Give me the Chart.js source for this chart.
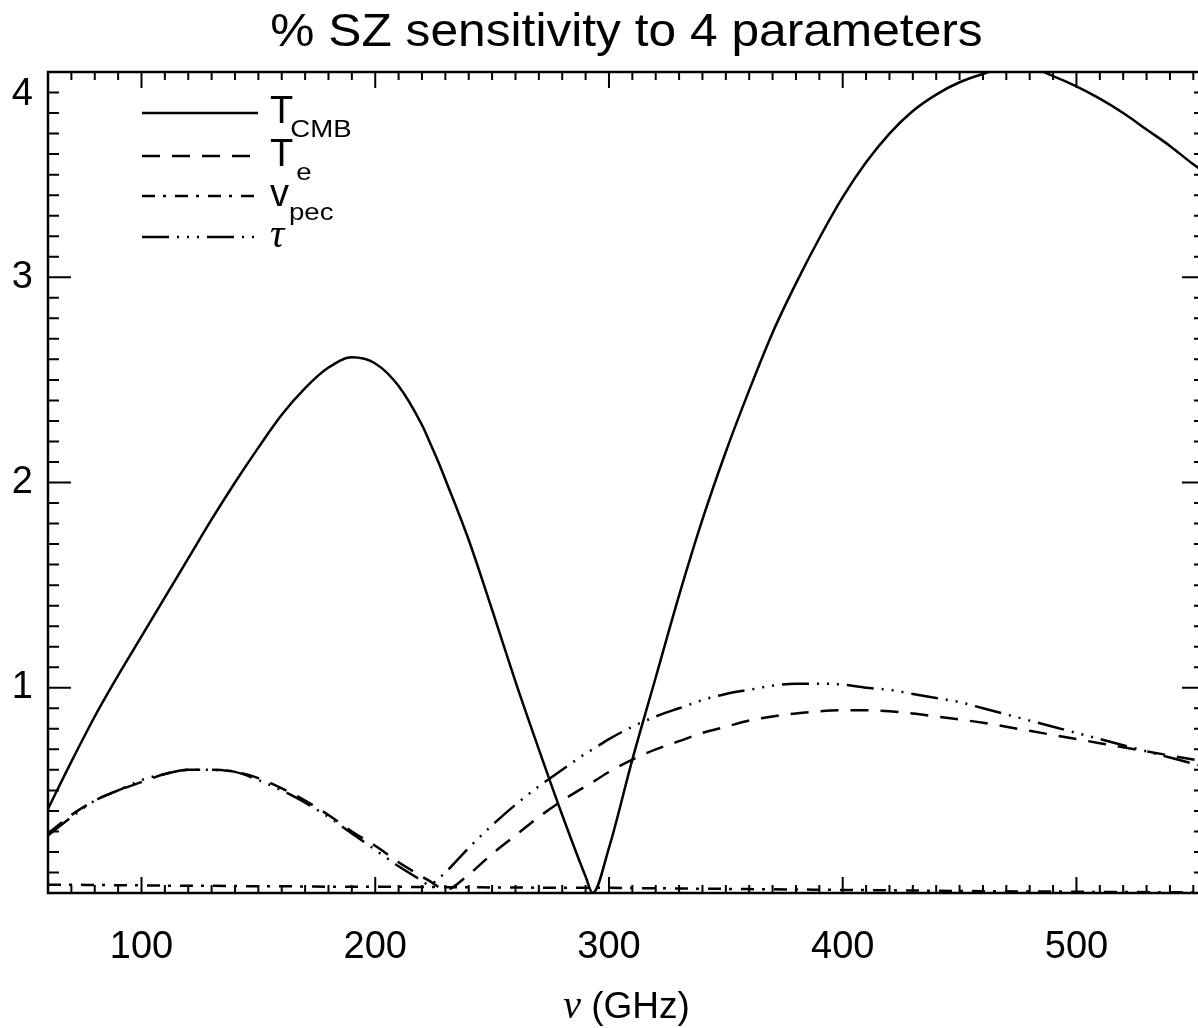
<!DOCTYPE html>
<html>
<head>
<meta charset="utf-8">
<title>% SZ sensitivity to 4 parameters</title>
<script src="https://cdn.jsdelivr.net/npm/chart.js@4.4.1/dist/chart.umd.min.js"></script>
<style>
  html, body { margin: 0; padding: 0; background: #fff; overflow: hidden; }
  #wrap { width: 1212px; height: 1028px; }
</style>
</head>
<body>
<div id="wrap"><canvas id="szChart" width="1212" height="1028"></canvas></div>
<script>
// frequency grid (GHz), extra points near the sign changes
const freqGHz = [60, 70, 80, 90, 100, 110, 120, 130, 140, 150, 160, 170, 180, 190, 200, 210, 220, 223, 227,
  230, 240, 250, 260, 270, 280, 290, 293, 300, 310, 320, 330, 340, 350, 360, 370, 380, 390, 400, 410, 420,
  430, 440, 450, 460, 470, 480, 490, 500, 510, 520, 530, 540, 550, 555];

// % sensitivity
const tCmb = [0.41, 0.64, 0.86, 1.06, 1.25, 1.44, 1.63, 1.82, 2.00, 2.17, 2.33, 2.46, 2.56, 2.61, 2.58, 2.47, 2.28, 2.205, 2.10,
  2.015, 1.72, 1.38, 1.03, 0.70, 0.38, 0.08, 0.00, 0.22, 0.65, 1.05, 1.45, 1.82, 2.15, 2.45, 2.73, 2.97, 3.19, 3.39, 3.56, 3.70,
  3.81, 3.89, 3.95, 3.99, 4.02, 4.02, 3.98, 3.93, 3.87, 3.80, 3.72, 3.64, 3.55, 3.51];
const tE = [0.29, 0.38, 0.45, 0.50, 0.54, 0.58, 0.60, 0.60, 0.59, 0.56, 0.51, 0.45, 0.38, 0.30, 0.23, 0.15, 0.08, 0.06, 0.03,
  0.015, 0.09, 0.19, 0.28, 0.37, 0.45, 0.52, 0.54, 0.59, 0.65, 0.70, 0.74, 0.78, 0.81, 0.84, 0.86, 0.875, 0.885, 0.89, 0.89, 0.885,
  0.875, 0.86, 0.845, 0.83, 0.81, 0.79, 0.77, 0.75, 0.73, 0.71, 0.69, 0.67, 0.65, 0.64];
const vPec = [0.040, 0.040, 0.039, 0.038, 0.037, 0.036, 0.035, 0.035, 0.034, 0.033, 0.033, 0.032, 0.031, 0.031, 0.030, 0.030, 0.029, 0.029, 0.029,
  0.028, 0.028, 0.027, 0.027, 0.026, 0.026, 0.025, 0.025, 0.025, 0.024, 0.023, 0.022, 0.021, 0.020, 0.019, 0.018, 0.017, 0.016, 0.015, 0.014, 0.013,
  0.012, 0.011, 0.010, 0.009, 0.008, 0.007, 0.007, 0.006, 0.005, 0.005, 0.004, 0.004, 0.003, 0.003];
const tau = [0.28, 0.37, 0.45, 0.50, 0.55, 0.58, 0.60, 0.60, 0.59, 0.55, 0.50, 0.44, 0.37, 0.29, 0.21, 0.13, 0.06, 0.04, 0.07,
  0.10, 0.22, 0.33, 0.43, 0.52, 0.60, 0.68, 0.70, 0.75, 0.81, 0.86, 0.90, 0.94, 0.97, 0.99, 1.01, 1.02, 1.02, 1.015, 1.00, 0.99,
  0.97, 0.95, 0.93, 0.90, 0.87, 0.84, 0.81, 0.78, 0.75, 0.72, 0.69, 0.66, 0.63, 0.615];

const xTickValues = [100, 200, 300, 400, 500];
const yTickValues = [1, 2, 3, 4];
const legendMain = ['T', 'T', 'v', '\u03C4'];
const legendSub = ['CMB', 'e', 'pec', ''];

const SANS = '"Liberation Sans", Arial, Helvetica, sans-serif';
const SERIF = '"Liberation Serif", "DejaVu Serif", serif';

function toPoints(values) {
    return freqGHz.map((f, i) => ({ x: f, y: values[i] }));
}

function series(values, dash) {
    return {
        data: toPoints(values),
        borderColor: '#000',
        borderWidth: 2.5,
        borderDash: dash,
        pointRadius: 0,
        fill: false,
        cubicInterpolationMode: 'monotone'
    };
}

// draw text stretched horizontally (the original font is a bit wide)
function wideText(ctx, text, x, y, sx) {
    ctx.save();
    ctx.translate(x, y);
    ctx.scale(sx, 1);
    ctx.fillText(text, 0, 0);
    ctx.restore();
    return ctx.measureText(text).width * sx;
}

// IDL style frame with inward major/minor ticks on all four sides
const framePlugin = {
    id: 'frame',
    afterDatasetsDraw(chart) {
        const { ctx, chartArea: a, scales: { x, y } } = chart;
        ctx.save();
        ctx.strokeStyle = '#000';
        ctx.lineWidth = 2;
        ctx.beginPath();
        for (let v = 60; v <= 555; v += 10) {
            const px = x.getPixelForValue(v);
            const len = v % 100 === 0 ? 16 : 8;
            ctx.moveTo(px, a.bottom); ctx.lineTo(px, a.bottom - len);
            ctx.moveTo(px, a.top); ctx.lineTo(px, a.top + len);
        }
        for (let i = 1; i < 40; i++) {
            const py = y.getPixelForValue(i / 10);
            const len = i % 10 === 0 ? 23 : 11;
            ctx.moveTo(a.left, py); ctx.lineTo(a.left + len, py);
            ctx.moveTo(a.right, py); ctx.lineTo(a.right - len, py);
        }
        ctx.stroke();
        ctx.lineWidth = 2.5;
        ctx.strokeRect(a.left, a.top, a.right - a.left, a.bottom - a.top);
        ctx.restore();
    }
};

// title, x-axis title and legend with subscripts
const textPlugin = {
    id: 'texts',
    afterDraw(chart) {
        const { ctx, chartArea: a } = chart;
        const cx = (a.left + a.right) / 2;
        ctx.save();
        ctx.fillStyle = '#000';
        ctx.textBaseline = 'alphabetic';
        ctx.textAlign = 'left';

        const title = '% SZ sensitivity to 4 parameters';
        ctx.font = '46px ' + SANS;
        const tw = ctx.measureText(title).width * 1.08;
        wideText(ctx, title, cx - tw / 2, 46, 1.08);

        // x-axis title: italic nu + (GHz)
        const nuFont = 'italic 40px ' + SERIF;
        const ghzFont = '37px ' + SANS;
        ctx.font = nuFont;
        const wNu = ctx.measureText('\u03BD').width;
        ctx.font = ghzFont;
        const wG = ctx.measureText(' (GHz)').width;
        const sx = cx - (wNu + wG) / 2;
        ctx.font = nuFont;
        ctx.fillText('\u03BD', sx, 1018);
        ctx.font = ghzFont;
        ctx.fillText(' (GHz)', sx + wNu, 1018);

        // legend
        const rowY = [41, 84, 124, 165];
        const subShift = [-3, 3, 0, 0];
        chart.data.datasets.forEach((ds, i) => {
            const ly = a.top + rowY[i];
            ctx.strokeStyle = '#000';
            ctx.lineWidth = 2.5;
            ctx.setLineDash(ds.borderDash || []);
            ctx.beginPath();
            ctx.moveTo(a.left + 94, ly);
            ctx.lineTo(a.left + 210, ly);
            ctx.stroke();
            ctx.setLineDash([]);
            const tx = a.left + 222;
            ctx.font = i === 3 ? 'italic 40px ' + SERIF : '38px ' + SANS;
            ctx.fillText(legendMain[i], tx, ly + 10);
            const w = ctx.measureText(legendMain[i]).width;
            if (legendSub[i]) {
                ctx.font = '23px ' + SANS;
                wideText(ctx, legendSub[i], tx + w + subShift[i], ly + 24, 1.2);
            }
        });
        ctx.restore();
    }
};

new Chart(document.getElementById('szChart'), {
    type: 'line',
    data: {
        datasets: [
            series(tCmb, []),
            series(tE, [18, 12]),
            series(vPec, [13, 8, 3, 9]),
            series(tau, [27, 8, 2, 8, 2, 8, 2, 8])
        ]
    },
    options: {
        responsive: false,
        animation: false,
        layout: { padding: { top: 72, right: 7, left: 0, bottom: 0 } },
        plugins: {
            legend: { display: false },
            title: { display: false },
            tooltip: { enabled: false }
        },
        scales: {
            x: {
                type: 'linear',
                min: 60,
                max: 555,
                afterBuildTicks: s => { s.ticks = xTickValues.map(v => ({ value: v })); },
                afterFit: s => { s.height = 135; },
                grid: { display: false, drawTicks: false },
                border: { display: false },
                ticks: {
                    color: '#000',
                    font: { family: SANS, size: 38 },
                    padding: 32,
                    maxRotation: 0,
                    autoSkip: false
                }
            },
            y: {
                min: 0,
                max: 4,
                afterBuildTicks: s => { s.ticks = yTickValues.map(v => ({ value: v })); },
                afterFit: s => { s.width = 48; },
                grid: { display: false, drawTicks: false },
                border: { display: false },
                ticks: {
                    color: '#000',
                    font: { family: SANS, size: 38 },
                    padding: 15,
                    callback: v => v === 4 ? ['', '4'] : String(v)
                }
            }
        }
    },
    plugins: [framePlugin, textPlugin]
});
</script>
</body>
</html>
